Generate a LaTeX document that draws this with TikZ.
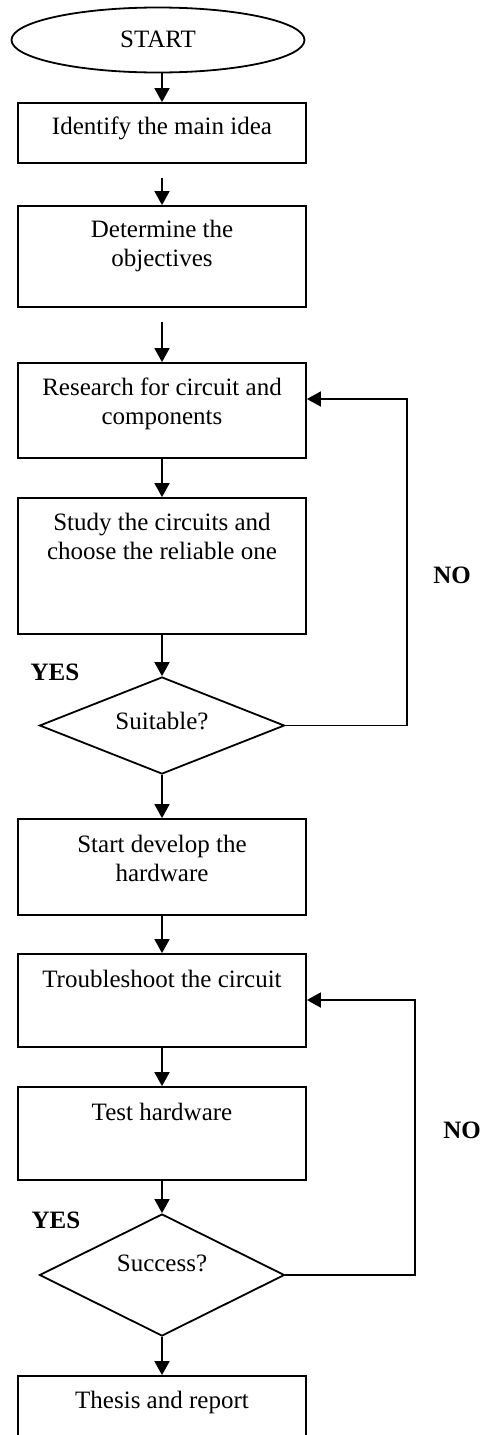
\documentclass[tikz,border=0pt]{standalone}
\usepackage{fontspec}
\setmainfont{Liberation Serif}
\usetikzlibrary{shapes.geometric,arrows.meta}

\begin{document}
\begin{tikzpicture}[x=0.5pt,y=-0.5pt]
	\tikzstyle{every node}+=[inner sep=0pt, font=\fontsize{12.5}{14.5}\selectfont]
	\tikzstyle{stepbox}=[draw=black, line width=0.9pt, rectangle, minimum width=144pt]
	\tikzstyle{askbox}=[draw=black, line width=0.9pt, diamond, minimum width=122.5pt]
	\tikzstyle{txt}=[align=center]
	\tikzstyle{ans}=[font=\fontsize{12.5}{14.5}\selectfont\bfseries]
	\tikzstyle{flow}=[black, line width=0.9pt, -{Triangle[length=7pt,width=7.5pt]}]
	\useasboundingbox (0,0) rectangle (484,1435);
	\node [draw=black, line width=0.9pt, ellipse, minimum width=146.5pt, minimum height=32.5pt] (start) at (158,40) {};
	\node [txt] (starttxt) at (158,39) {START};
	\node [stepbox, minimum height=30pt] (idea) at (162,133) {};
	\node [txt] (ideatxt) at (162,128) {Identify the main idea};
	\node [stepbox, minimum height=50.5pt] (obj) at (162,256.5) {};
	\node [txt] (objtxt) at (162,245.5) {Determine the\\objectives};
	\node [stepbox, minimum height=47.5pt] (research) at (162,410.5) {};
	\node [txt] (researchtxt) at (162,403.5) {Research for circuit and\\components};
	\node [stepbox, minimum height=68pt] (study) at (162,566) {};
	\node [txt] (studytxt) at (162,536.5) {Study the circuits and\\choose the reliable one};
	\node [askbox, minimum height=48.5pt] (suit) at (162,725.5) {};
	\node [txt] (suittxt) at (162,721) {Suitable?};
	\node [stepbox, minimum height=48pt] (develop) at (162,867) {};
	\node [txt] (developtxt) at (162,858.5) {Start develop the\\hardware};
	\node [stepbox, minimum height=46.5pt] (trouble) at (162,1000.5) {};
	\node [txt] (troubletxt) at (162,979) {Troubleshoot the circuit};
	\node [stepbox, minimum height=46.5pt] (test) at (162,1133.5) {};
	\node [txt] (testtxt) at (162,1112) {Test hardware};
	\node [askbox, minimum height=61pt] (succ) at (162,1275) {};
	\node [txt] (succtxt) at (162,1263) {Success?};
	\node [stepbox, minimum height=48pt] (thesis) at (162,1424) {};
	\node [txt] (thesistxt) at (162,1402) {Thesis and report};
	\node [ans] (yesa) at (55,672) {YES};
	\node [ans] (noa) at (452,575) {NO};
	\node [ans] (yesb) at (56,1220) {YES};
	\node [ans] (nob) at (462,1130) {NO};
	\coordinate (loopa) at (407,399);
	\coordinate (loopb) at (415,1000);
	\draw [flow] (start.south -| idea.north) -- (idea.north);
	\draw [flow, shorten <=7pt] (idea) -- (obj);
	\draw [flow, shorten <=7pt] (obj) -- (research);
	\draw [flow] (research) -- (study);
	\draw [flow] (study) -- (suit);
	\draw [flow] (suit) -- (develop);
	\draw [flow] (develop) -- (trouble);
	\draw [flow] (trouble) -- (test);
	\draw [flow] (test) -- (succ);
	\draw [flow] (succ) -- (thesis);
	\draw [flow] (suit.east) -| (loopa) -- (research.east |- loopa);
	\draw [flow] (succ.east) -| (loopb) -- (trouble.east |- loopb);
\end{tikzpicture}
\end{document}
